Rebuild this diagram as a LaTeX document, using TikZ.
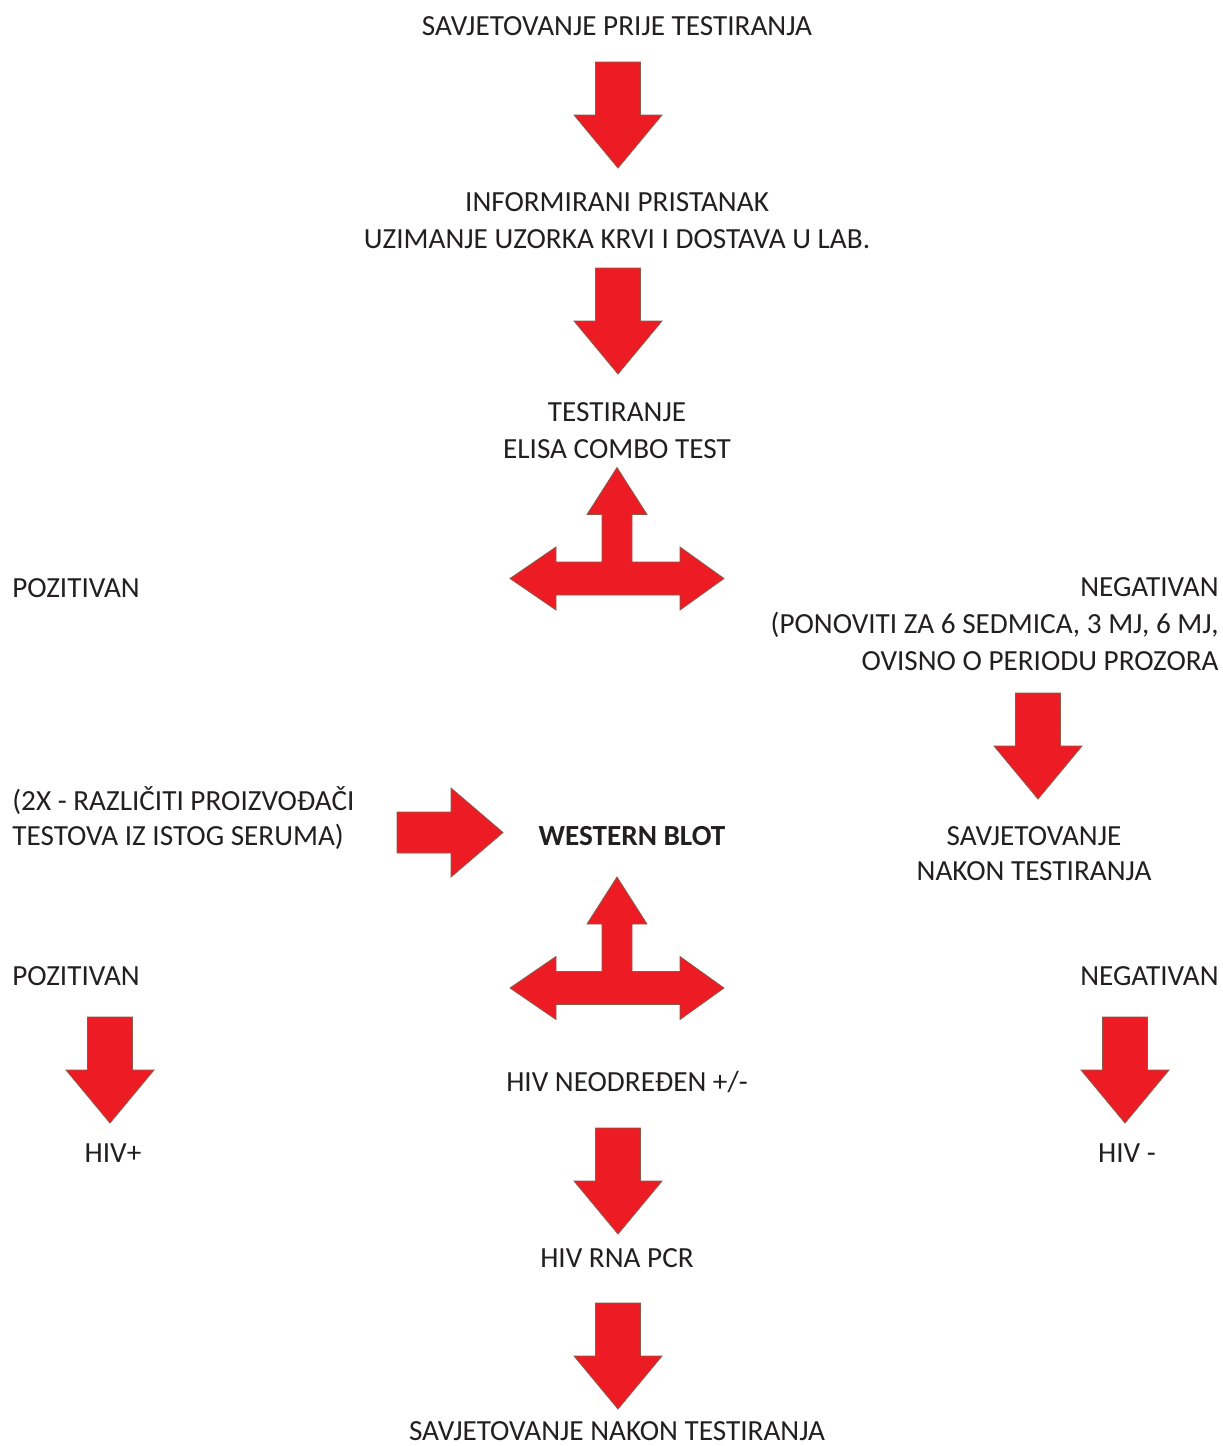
\documentclass[tikz,border=0pt]{standalone}
\usepackage{fontspec}
\setmainfont{Carlito}
\definecolor{arrowred}{RGB}{237,28,36}
\definecolor{arrowedge}{RGB}{140,90,75}
\definecolor{textgray}{RGB}{35,31,32}

\begin{document}
\begin{tikzpicture}[x=0.5pt, y=-0.5pt,
  main node/.style={inner sep=0pt, text=textgray, font=\fontsize{14.6}{18.4}\selectfont},
  tight node/.style={main node, font=\fontsize{14.6}{17.5}\selectfont},
  block/.style={fill=arrowred, draw=arrowedge, line width=0.4pt},
  down arrow/.pic={\draw[block] (-22.5,0) -- (22.5,0) -- (22.5,53) -- (44,53) -- (0,106) -- (-44,53) -- (-22.5,53) -- cycle;},
  right arrow/.pic={\draw[block] (0,-20.5) -- (54,-20.5) -- (54,-44.5) -- (106,0) -- (54,44.5) -- (54,20.5) -- (0,20.5) -- cycle;},
  split arrow/.pic={\draw[block] (-15,-16.5) -- (-15,-64) -- (-30,-64) -- (0,-111) -- (30,-64) -- (15,-64) -- (15,-16.5)
      -- (63,-16.5) -- (63,-31.5) -- (107,0) -- (63,31.5) -- (63,16.5) -- (-61,16.5) -- (-61,31.5) -- (-107,0)
      -- (-61,-31.5) -- (-61,-16.5) -- cycle;}]

  \useasboundingbox (0,0) rectangle (1222,1446);

  % multi-line nodes sit on the baseline of their last line
  \node[main node, anchor=base] (1) at (617,35) {SAVJETOVANJE PRIJE TESTIRANJA};
  \node[main node, anchor=base, align=center] (2) at (617,248) {INFORMIRANI PRISTANAK\\UZIMANJE UZORKA KRVI I DOSTAVA U LAB.};
  \node[main node, anchor=base, align=center] (3) at (617,458) {TESTIRANJE\\ELISA COMBO TEST};
  \node[main node, anchor=base west] (4) at (12,597) {POZITIVAN};
  \node[main node, anchor=base east, align=right] (5) at (1219,670) {NEGATIVAN\\(PONOVITI ZA 6 SEDMICA, 3 MJ, 6 MJ,\\OVISNO O PERIODU PROZORA};
  \node[tight node, anchor=base west, align=left] (6) at (12,845) {(2X - RAZLIČITI PROIZVOĐAČI\\TESTOVA IZ ISTOG SERUMA)};
  \node[main node, anchor=base, font=\fontsize{14.6}{18.4}\selectfont\bfseries] (7) at (632,845) {WESTERN BLOT};
  \node[tight node, anchor=base, align=center] (8) at (1034,880) {SAVJETOVANJE\\NAKON TESTIRANJA};
  \node[main node, anchor=base west] (9) at (12,985) {POZITIVAN};
  \node[main node, anchor=base east] (10) at (1219,985) {NEGATIVAN};
  \node[main node, anchor=base] (11) at (627,1091) {HIV NEODREĐEN +/-};
  \node[main node, anchor=base] (12) at (113,1162) {HIV+};
  \node[main node, anchor=base] (13) at (1127,1162) {HIV -};
  \node[main node, anchor=base] (14) at (617,1267) {HIV RNA PCR};
  \node[main node, anchor=base] (15) at (617,1440) {SAVJETOVANJE NAKON TESTIRANJA};

  \pic at (618,62) {down arrow};
  \pic at (618,268) {down arrow};
  \pic at (617,578.5) {split arrow};
  \pic at (1038,693) {down arrow};
  \pic at (397,832.5) {right arrow};
  \pic at (617,988) {split arrow};
  \pic at (110,1017) {down arrow};
  \pic at (1125,1017) {down arrow};
  \pic at (618,1128) {down arrow};
  \pic at (618,1303) {down arrow};
\end{tikzpicture}
\end{document}
